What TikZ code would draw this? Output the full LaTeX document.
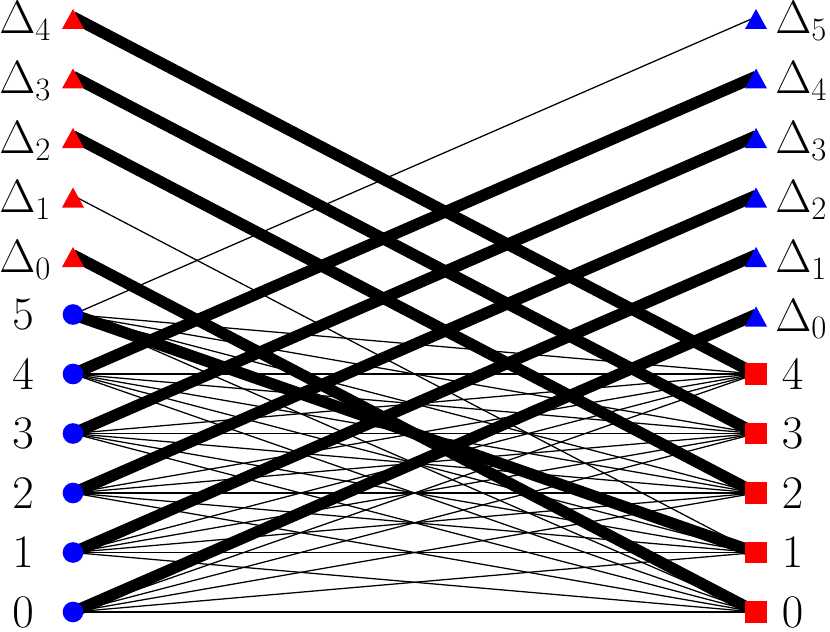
\RequirePackage{fix-cm}
\documentclass[tikz,border=0pt]{standalone}
\usetikzlibrary{calc}
\begin{document}
\begin{tikzpicture}[x=0.75pt,y=-0.75pt,
  thinedge/.style={line width=0.95pt,black},
  thickedge/.style={line width=8.6pt,black},
  dot/.style={circle,fill=blue,inner sep=0pt,minimum size=15.5pt},
  sq/.style={rectangle,fill=red,inner sep=0pt,minimum size=16pt},
  lab/.style={inner sep=0pt,font=\fontsize{35}{42}\selectfont}
]
\useasboundingbox (0,0) rectangle (830,631);
% grid positions
\foreach \k in {0,...,10}{
  \pgfmathsetmacro{\yy}{612-59.5*\k}
  \expandafter\xdef\csname Y\k\endcsname{\yy}
}
% left circles
\foreach \k in {0,...,5}{
  \coordinate (L\k) at (73,\csname Y\k\endcsname);
}
% right squares
\foreach \k in {0,...,4}{
  \coordinate (R\k) at (756,\csname Y\k\endcsname);
}
% left triangles Delta_i at grid k=i+6
\foreach \i [evaluate=\i as \k using int(\i+6)] in {0,...,4}{
  \coordinate (LT\i) at (73,\csname Y\k\endcsname);
}
% right triangles Delta_i at grid k=i+5
\foreach \i [evaluate=\i as \k using int(\i+5)] in {0,...,5}{
  \coordinate (RT\i) at (756,\csname Y\k\endcsname);
}
% thin complete bipartite edges
\foreach \a in {0,...,5}{
  \foreach \b in {0,...,4}{
    \draw[thinedge] (L\a) -- (R\b);
  }
}
\draw[thinedge] (LT1) -- (R1);
\draw[thinedge] (L5) -- (RT5);
% thick edges
\foreach \i in {0,2,3,4}{
  \draw[thickedge] (LT\i) -- (R\i);
}
\foreach \i in {0,...,4}{
  \draw[thickedge] (L\i) -- (RT\i);
}
\draw[thickedge] (L5) -- (R1);
% markers
\foreach \k in {0,...,5}{
  \node[dot] (Lm\k) at (L\k) {};
  \node[lab] (Ll\k) at (23,\csname Y\k\endcsname) {$\k$};
}
\foreach \k in {0,...,4}{
  \node[sq] (Rm\k) at (R\k) {};
  \node[lab] (Rl\k) at (792.5,\csname Y\k\endcsname) {$\k$};
}
\foreach \i in {0,...,4}{
  \fill[red] (LT\i) ++(0,-8) -- ++(11,20) -- ++(-22,0) -- cycle;
  \node[lab,anchor=base west] (LTl\i) at ($(LT\i)+(-74,17)$) {$\Delta_{\i}$};
}
\foreach \i in {0,...,5}{
  \fill[blue] (RT\i) ++(0,-8) -- ++(11,20) -- ++(-22,0) -- cycle;
  \node[lab,anchor=base west] (RTl\i) at ($(RT\i)+(19,17)$) {$\Delta_{\i}$};
}
\end{tikzpicture}
\end{document}
